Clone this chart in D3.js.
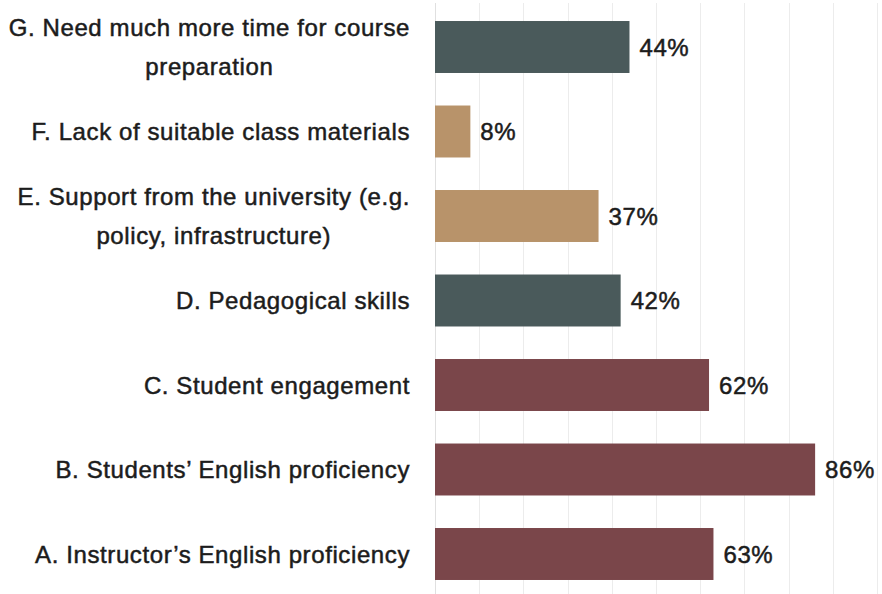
<!DOCTYPE html>
<html>
<head>
<meta charset="utf-8">
<script src="https://cdn.jsdelivr.net/npm/d3@7"></script>
<style>
  html, body { margin: 0; padding: 0; background: #ffffff; }
  svg { display: block; }
  text { font-family: "Liberation Sans", Arial, Helvetica, sans-serif; fill: #1c1c1c; }
</style>
</head>
<body>
<svg id="chart" width="882" height="594"></svg>
<script>
// Challenges reported, top to bottom; "\n" marks a line break in the label
const categories = [
  "G. Need much more time for course\npreparation",
  "F. Lack of suitable class materials",
  "E. Support from the university (e.g.\npolicy, infrastructure)",
  "D. Pedagogical skills",
  "C. Student engagement",
  "B. Students\u2019 English proficiency",
  "A. Instructor\u2019s English proficiency"
];
const percents = [44, 8, 37, 42, 62, 86, 63];
const groups = ["time", "support", "support", "teaching", "english", "english", "english"];
const groupColors = { time: "#4a5a5b", teaching: "#4a5a5b", support: "#b8936a", english: "#7a464a" };
const gridTicks = [0, 10, 20, 30, 40, 50, 60, 70, 80, 90, 100];

const W = 882, H = 594;
const svg = d3.select("#chart");

const x = d3.scaleLinear().domain([0, 100]).range([435, 877]);
const y = d3.scaleBand()
  .domain(categories)
  .range([4.75, 596.25])
  .paddingInner(0.385)
  .paddingOuter(0.1925);

const rows = categories.map((c, i) => ({ cat: c, v: percents[i], g: groups[i] }));

// vertical gridlines
svg.append("g")
  .selectAll("line")
  .data(gridTicks)
  .join("line")
  .attr("x1", d => Math.round(x(d)) + 0.5)
  .attr("x2", d => Math.round(x(d)) + 0.5)
  .attr("y1", 3)
  .attr("y2", H)
  .attr("stroke", d => d === 0 ? "#e0e0e0" : "#ececec")
  .attr("stroke-width", 1);

// bars
svg.append("g")
  .selectAll("rect")
  .data(rows)
  .join("rect")
  .attr("x", x(0))
  .attr("y", d => y(d.cat))
  .attr("width", d => x(d.v) - x(0))
  .attr("height", y.bandwidth())
  .attr("fill", d => groupColors[d.g]);

const textStyle = sel => sel
  .style("font-size", "24px")
  .style("letter-spacing", "0.6px")
  .style("stroke", "#1c1c1c")
  .style("stroke-width", "0.5px");

// value labels
svg.append("g")
  .selectAll("text")
  .data(rows)
  .join("text")
  .attr("x", d => x(d.v) + 10)
  .attr("y", d => y(d.cat) + y.bandwidth() / 2)
  .attr("dy", "0.36em")
  .call(textStyle)
  .text(d => d.v + "%");

// category labels: block right-aligned to the axis, lines centred within the block
const labelRight = 410, lineH = 39;
const lab = svg.append("g")
  .selectAll("text")
  .data(rows)
  .join("text")
  .call(textStyle)
  .attr("text-anchor", "middle");

lab.each(function(d) {
  const t = d3.select(this);
  const lines = d.cat.split("\n");
  const cy = y(d.cat) + y.bandwidth() / 2;
  const first = cy - (lines.length - 1) * lineH / 2;
  lines.forEach((ln, k) => {
    t.append("tspan").attr("y", first + k * lineH).attr("dy", "0.36em").text(ln);
  });
  let maxW = 0;
  t.selectAll("tspan").each(function() { maxW = Math.max(maxW, this.getComputedTextLength()); });
  t.selectAll("tspan").attr("x", labelRight - maxW / 2);
});
</script>
</body>
</html>
